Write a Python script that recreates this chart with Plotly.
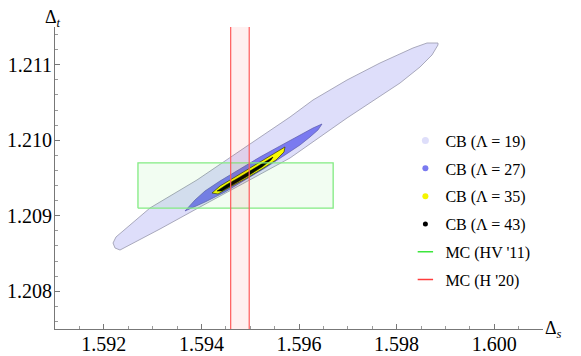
import plotly.graph_objects as go

# ---- data ----
cb19_x = [1.592189, 1.592230, 1.592332, 1.593152, 1.593971, 1.594996, 1.595816, 1.596984,
          1.598070, 1.598480, 1.598725, 1.598848, 1.598848, 1.598623, 1.598336, 1.597660,
          1.596984, 1.596287, 1.595816, 1.594996, 1.593910, 1.592947, 1.592475, 1.592250]
cb19_y = [1.208639, 1.208573, 1.208546, 1.208825, 1.209116, 1.209474, 1.209765, 1.210295,
          1.210758, 1.210970, 1.211129, 1.211262, 1.211288, 1.211288, 1.211222, 1.211023,
          1.210798, 1.210533, 1.210308, 1.209950, 1.209474, 1.209103, 1.208851, 1.208719]

cb27_x = [1.593664, 1.593869, 1.594074, 1.594381, 1.594791, 1.595201, 1.595611, 1.596020,
          1.596287, 1.596471, 1.596389, 1.596225, 1.596020, 1.595713, 1.595303, 1.594893,
          1.594484, 1.594074, 1.593766]
cb27_y = [1.209063, 1.209209, 1.209328, 1.209460, 1.209619, 1.209778, 1.209924, 1.210070,
          1.210162, 1.210215, 1.210136, 1.210043, 1.209937, 1.209805, 1.209632, 1.209474,
          1.209315, 1.209182, 1.209089]

cb35_x = [1.594217, 1.594381, 1.594689, 1.594996, 1.595303, 1.595570, 1.595713, 1.595693,
          1.595529, 1.595242, 1.594934, 1.594627, 1.594340]
cb35_y = [1.209301, 1.209394, 1.209513, 1.209632, 1.209752, 1.209858, 1.209911, 1.209844,
          1.209738, 1.209619, 1.209500, 1.209394, 1.209288]

cb43_x = [1.594320, 1.594504, 1.594791, 1.595098, 1.595303, 1.595467, 1.595426, 1.595242,
          1.594955, 1.594668, 1.594422]
cb43_y = [1.209328, 1.209407, 1.209513, 1.209632, 1.209712, 1.209778, 1.209738, 1.209646,
          1.209527, 1.209421, 1.209328]

mc_hv11_x = [1.5927, 1.5967]   # Delta_s range
mc_hv11_y = [1.2091, 1.2097]   # Delta_t range
mc_h20_x = [1.5946, 1.59498]   # Delta_s range (band)

x_range = [1.591, 1.601]
y_range = [1.2075, 1.2115]
x_ticks = [1.592, 1.594, 1.596, 1.598, 1.600]
y_ticks = [1.208, 1.209, 1.210, 1.211]

labels = ["CB (Λ = 19)", "CB (Λ = 27)", "CB (Λ = 35)", "CB (Λ = 43)", "MC (HV '11)", "MC (H '20)"]

FONT = "Liberation Serif, DejaVu Serif, Times New Roman, serif"

fig = go.Figure()

def poly(xs, ys, fill, line, width):
    fig.add_trace(go.Scatter(x=xs + xs[:1], y=ys + ys[:1], mode="lines", fill="toself",
                             fillcolor=fill, line=dict(color=line, width=width),
                             showlegend=False, hoverinfo="skip"))

poly(cb19_x, cb19_y, "rgb(222,222,250)", "rgb(160,160,180)", 0.9)
poly(cb27_x, cb27_y, "rgb(122,122,240)", "rgb(90,90,170)", 0.7)
poly(cb35_x, cb35_y, "rgb(250,250,0)", "rgb(70,70,20)", 0.8)
poly(cb43_x, cb43_y, "rgb(0,0,0)", "rgb(0,0,0)", 0.5)

# MC (HV '11) box
bx = [mc_hv11_x[0], mc_hv11_x[1], mc_hv11_x[1], mc_hv11_x[0], mc_hv11_x[0]]
by = [mc_hv11_y[0], mc_hv11_y[0], mc_hv11_y[1], mc_hv11_y[1], mc_hv11_y[0]]
fig.add_trace(go.Scatter(x=bx, y=by, mode="lines", fill="toself",
                         fillcolor="rgba(0,220,0,0.05)",
                         line=dict(color="rgb(130,235,130)", width=1.3),
                         showlegend=False, hoverinfo="skip"))

# MC (H '20) band: fill, then the two vertical edges
rx = [mc_h20_x[0], mc_h20_x[1], mc_h20_x[1], mc_h20_x[0], mc_h20_x[0]]
ry = [y_range[0], y_range[0], y_range[1], y_range[1], y_range[0]]
fig.add_trace(go.Scatter(x=rx, y=ry, mode="lines", fill="toself",
                         fillcolor="rgba(255,0,0,0.06)", line=dict(width=0),
                         showlegend=False, hoverinfo="skip"))
for xv in mc_h20_x:
    fig.add_trace(go.Scatter(x=[xv, xv], y=y_range, mode="lines",
                             line=dict(color="rgb(255,90,90)", width=1.2),
                             showlegend=False, hoverinfo="skip"))

# legend entries
leg_styles = [
    dict(symbol="circle", size=7, color="rgb(222,222,250)", line=dict(width=0)),
    dict(symbol="circle", size=6, color="rgb(122,122,240)", line=dict(width=0)),
    dict(symbol="circle", size=6, color="rgb(245,245,0)", line=dict(width=0)),
    dict(symbol="circle", size=5, color="black", line=dict(width=0)),
    dict(symbol="line-ew", size=11, color="rgb(60,230,60)", line=dict(width=1.4, color="rgb(60,230,60)")),
    dict(symbol="line-ew", size=11, color="rgb(255,60,60)", line=dict(width=1.4, color="rgb(255,60,60)")),
]
for i, (lab, st) in enumerate(zip(labels, leg_styles)):
    fig.add_trace(go.Scatter(x=[None], y=[None], mode="markers", marker=st, name=lab,
                             legendgroup="g%d" % i))

axis_common = dict(showgrid=False, zeroline=False, showline=True, linecolor="#777",
                   linewidth=1, ticks="inside", ticklen=5, tickcolor="#777", tickwidth=1,
                   automargin=False,
                   tickfont=dict(family=FONT, size=20, color="black"), tickformat=".3f")

fig.update_xaxes(range=x_range, tickvals=x_ticks, ticklabelstandoff=-3,
                 minor=dict(dtick=0.0005, tick0=1.592, ticks="inside", ticklen=3, tickcolor="#999"),
                 **axis_common)
fig.update_yaxes(range=y_range, tickvals=y_ticks, ticklabelstandoff=-2,
                 minor=dict(dtick=0.0002, tick0=1.208, ticks="inside", ticklen=3, tickcolor="#999"),
                 **axis_common)

fig.add_annotation(text="Δ<sub><i>t</i></sub>", xref="paper", yref="paper", x=-0.004, y=1.028,
                   xanchor="center", yanchor="middle", showarrow=False, borderpad=0,
                   font=dict(family=FONT, size=18, color="black"))
fig.add_annotation(text="Δ<sub><i>s</i></sub>", xref="paper", yref="paper", x=1.003, y=0.0,
                   xanchor="left", yanchor="middle", showarrow=False, borderpad=0,
                   font=dict(family=FONT, size=18, color="black"))

# the page body adds an 8px offset, so the figure is sized to fill the window from there
fig.update_layout(
    width=573, height=348,
    margin=dict(l=47, r=38, t=19, b=27, autoexpand=False),
    paper_bgcolor="white", plot_bgcolor="white",
    font=dict(family=FONT),
    legend=dict(x=0.718, y=0.68, xanchor="left", yanchor="top", bgcolor="rgba(0,0,0,0)",
                font=dict(family=FONT, size=16, color="black"), itemwidth=30,
                tracegroupgap=4),
)

fig.write_html("out.html")
